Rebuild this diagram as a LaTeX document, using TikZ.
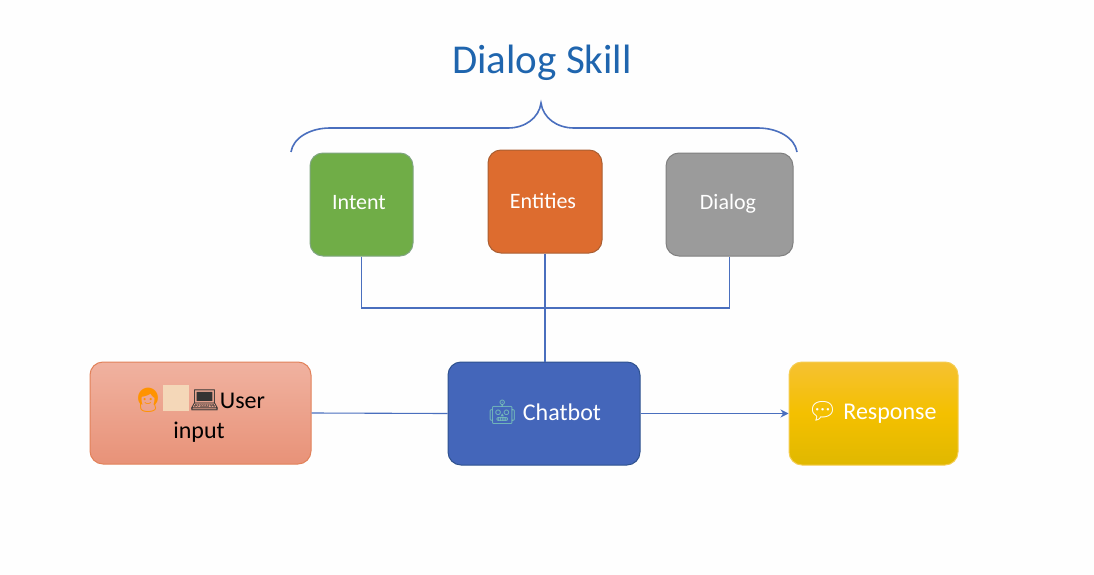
\documentclass[tikz,border=0pt]{standalone}
\usepackage{fontspec}
\setmainfont{Carlito}
\newfontfamily\emojifont{Noto Emoji}
\usetikzlibrary{arrows.meta}
\definecolor{linkblue}{HTML}{4A6FBE}
\definecolor{titleblue}{HTML}{1F65AE}
\tikzset{
  box/.style={draw, line width=1pt, rounded corners=13pt, inner sep=0pt, align=center, text=white, font=\fontsize{22}{28}\selectfont},
  link/.style={draw=linkblue, line width=1.1pt},
}
\newcommand{\emo}[2]{{\color{#1}\emojifont\fontsize{24}{28}\selectfont #2}}
\begin{document}
\begin{tikzpicture}[x=1pt,y=-1pt]
\useasboundingbox (0,0) rectangle (1094,575);
\fill[white!99.5!black] (0,0) rectangle (1094,575);
\node[font=\fontsize{41}{48}\selectfont, text=titleblue] (title) at (542,63) {Dialog Skill};
\coordinate (braceL) at (291,152);
\coordinate (braceT) at (541,103);
\coordinate (braceR) at (797,152);
\draw[draw=linkblue, line width=1.6pt] (braceL) .. controls (293,138) and (310,128) .. (330,128) -- (508,128) .. controls (525,128) and (539,118) .. (braceT) .. controls (543,118) and (557,128) .. (574,128) -- (758,128) .. controls (778,128) and (795,138) .. (braceR);
\node[box, draw=black!25!green!35!black!60!white, draw=green!30!black!50!white, fill={rgb,255:red,112;green,173;blue,71}, minimum width=103pt, minimum height=103pt] (intent) at (361.5,204.5) {};
\node[font=\fontsize{22}{28}\selectfont, text=white] (intentT) at (359,203) {Intent};
\node[box, draw={rgb,255:red,170;green,95;blue,50}, fill={rgb,255:red,221;green,108;blue,47}, minimum width=114pt, minimum height=103pt] (entities) at (545,201.5) {};
\node[font=\fontsize{22}{28}\selectfont, text=white] (entitiesT) at (543,201) {Entities};
\node[box, draw=black!50, fill={rgb,255:red,155;green,155;blue,155}, minimum width=127pt, minimum height=103pt] (dialog) at (729.5,204.5) {};
\node[font=\fontsize{22}{28}\selectfont, text=white] (dialogT) at (728,204) {Dialog};
\node[box, draw={rgb,255:red,226;green,130;blue,90}, top color={rgb,255:red,240;green,178;blue,160}, bottom color={rgb,255:red,232;green,146;blue,120}, minimum width=221pt, minimum height=102pt] (user) at (200.5,413) {};
\node[font=\fontsize{24}{29}\selectfont, text=black, align=center] (userT) at (199,413.5) {\emo{orange!85!yellow}{👩}\textcolor[HTML]{F4D7B8}{\rule[-2pt]{26pt}{26pt}}\emo{black!80}{💻}User\\[1pt]input};
\node[box, draw={rgb,255:red,47;green,82;blue,143}, fill={rgb,255:red,68;green,102;blue,186}, minimum width=192pt, minimum height=103pt] (chatbot) at (544,413.5) {};
\node[font=\fontsize{24}{28}\selectfont, text=white] (chatbotT) at (544,412) {\emo{teal!55!white}{🤖} Chatbot};
\node[box, draw={rgb,255:red,245;green,205;blue,80}, top color={rgb,255:red,245;green,193;blue,50}, bottom color={rgb,255:red,224;green,184;blue,0}, middle color={rgb,255:red,244;green,192;blue,0}, minimum width=169pt, minimum height=103pt] (response) at (873.5,413.5) {};
\node[font=\fontsize{24}{28}\selectfont, text=white] (responseT) at (872,412) {\emo{white}{💬} Response};
\coordinate (junction) at (545,308);
\draw[link] (intent.south) |- (junction) -| (dialog.south);
\draw[link] (entities.south) -- (junction);
\draw[link, line width=1.8pt] (junction) -- (chatbot.north -| junction);
\draw[link] (user.east) -- (chatbot.west);
\draw[link, -{Stealth[length=8pt,width=8pt]}] (chatbot.east) -- (response.west);
\end{tikzpicture}
\end{document}
